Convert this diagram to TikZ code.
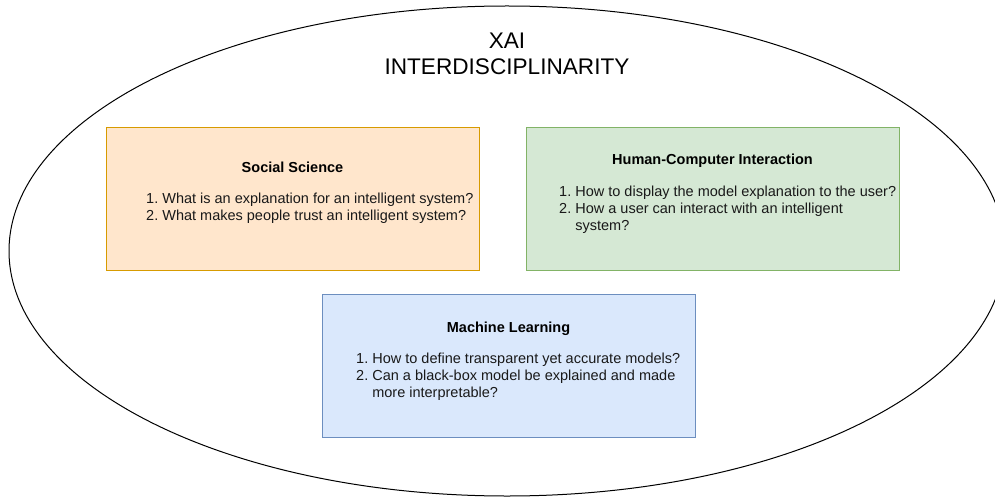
\documentclass[tikz,border=0pt]{standalone}
\usepackage{fontspec}
\setmainfont{Liberation Sans}
\definecolor{ssfill}{HTML}{FFE6CC}
\definecolor{ssline}{HTML}{D79B00}
\definecolor{hcfill}{HTML}{D5E8D4}
\definecolor{hcline}{HTML}{82B366}
\definecolor{mlfill}{HTML}{DAE8FC}
\definecolor{mlline}{HTML}{6C8EBF}
\tikzset{
  areabox/.style={draw, line width=1.1pt, minimum width=373pt, minimum height=143pt, anchor=north west, inner sep=0pt},
  boxtitle/.style={anchor=base, inner sep=0pt, font=\bfseries\fontsize{14.5}{17}\selectfont},
  boxlist/.style={anchor=base west, inner sep=0pt, font=\fontsize{14.5}{17}\selectfont, text=black!90},
  maintitle/.style={anchor=base, inner sep=0pt, font=\fontsize{22.6}{26}\selectfont}
}
\begin{document}
\begin{tikzpicture}[x=1pt,y=-1pt]
\useasboundingbox (0,0) rectangle (995,497);
\clip (0,0) rectangle (995,497);
\draw[line width=1pt] (507,251) ellipse [x radius=498pt, y radius=245pt];

\node[maintitle] (title) at (507,49) {\begin{tabular}[t]{@{}c@{}}XAI\\INTERDISCIPLINARITY\end{tabular}};

\node[areabox, fill=ssfill, draw=ssline] (ss) at (106,127) {};
\node[boxtitle] (sst) at (292.5,172.7) {Social Science};
\node[boxlist] (ssl) at (146,204) {\begin{tabular}[t]{@{}l@{\ }l@{}}1.&What is an explanation for an intelligent system?\\2.&What makes people trust an intelligent system?\end{tabular}};

\node[areabox, fill=hcfill, draw=hcline] (hc) at (526,127) {};
\node[boxtitle] (hct) at (712.5,165) {Human-Computer Interaction};
\node[boxlist] (hcl) at (559,196.5) {\begin{tabular}[t]{@{}l@{\ }l@{}}1.&How to display the model explanation to the user?\\2.&How a user can interact with an intelligent\\&system?\end{tabular}};

\node[areabox, fill=mlfill, draw=mlline] (ml) at (322,294) {};
\node[boxtitle] (mlt) at (508.5,332) {Machine Learning};
\node[boxlist] (mll) at (356,363.5) {\begin{tabular}[t]{@{}l@{\ }l@{}}1.&How to define transparent yet accurate models?\\2.&Can a black-box model be explained and made\\&more interpretable?\end{tabular}};
\end{tikzpicture}
\end{document}
